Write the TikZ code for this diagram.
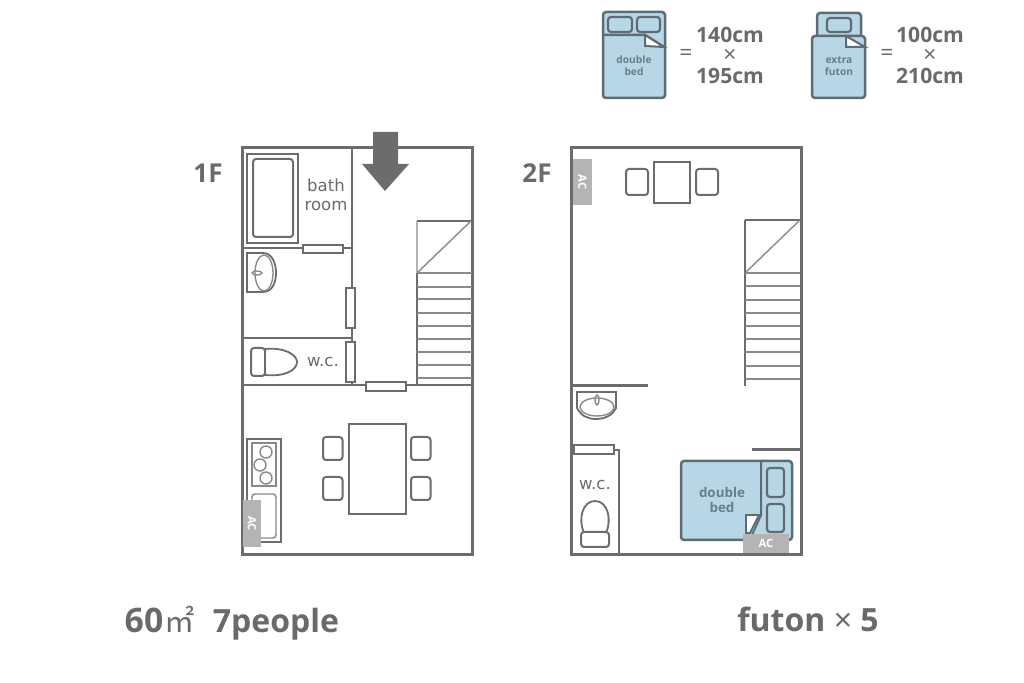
\documentclass[tikz,border=0pt]{standalone}
\usepackage{fontspec}
\setmainfont{Open Sans}
\newfontfamily\cjkfont{Noto Sans CJK JP}
\newfontfamily\roomfont{DejaVu Sans}
\definecolor{wallgray}{HTML}{6C6C6C}
\definecolor{stairgray}{HTML}{8A8A8A}
\definecolor{textgray}{HTML}{6A6A6A}
\definecolor{acgray}{HTML}{B4B4B4}
\definecolor{bedblue}{HTML}{B7D7E6}
\definecolor{bedline}{HTML}{5F6B72}
\definecolor{bedtext}{HTML}{64808E}
\begin{document}
\begin{tikzpicture}[
  x=0.01cm,y=-0.01cm,
  wall/.style={draw=wallgray,line width=0.03cm},
  inner wall/.style={draw=wallgray,line width=0.023cm},
  thin wall/.style={draw=wallgray,line width=0.018cm},
  stair/.style={draw=stairgray,line width=0.014cm},
  fixture/.style={draw=wallgray,line width=0.02cm,fill=white,rounded corners=0.03cm},
  door/.style={draw=wallgray,line width=0.02cm,fill=white},
  bedpart/.style={draw=bedline,line width=0.025cm,fill=bedblue,rounded corners=0.03cm},
  pillow/.style={draw=bedline,line width=0.022cm,rounded corners=0.03cm},
  floor label/.style={font=\bfseries\fontsize{7.4}{9}\selectfont,text=textgray,inner sep=0},
  room label/.style={font=\roomfont\fontsize{4.7}{6}\selectfont,text=textgray,inner sep=0,anchor=base},
  bed label/.style={font=\bfseries\fontsize{3.8}{5}\selectfont,text=bedtext,inner sep=0},
  legend label/.style={font=\bfseries\fontsize{2.9}{4}\selectfont,text=bedtext,inner sep=0},
  size label/.style={font=\bfseries\fontsize{6}{7}\selectfont,text=textgray,inner sep=0},
  sign label/.style={font=\fontsize{6.5}{7}\selectfont,text=textgray,inner sep=0},
  bottom label/.style={font=\bfseries\fontsize{9.1}{11}\selectfont,text=textgray,inner sep=0,anchor=base},
  ac/.style={fill=acgray,font=\bfseries\fontsize{3.2}{4}\selectfont,text=white,inner sep=0}
  ]
  \useasboundingbox (0,0) rectangle (1024,683);

  % legend
  \path[bedpart] (603,12) rectangle (665,98);
  \path[pillow] (608,17) rectangle (632,32);
  \path[pillow] (637,17) rectangle (660,32);
  \draw[bedline,line width=0.025cm] (603,35) -- (645,35) -- (664,47);
  \path[draw=bedline,fill=white,line width=0.02cm] (645,35) -- (645,46) -- (664,47) -- cycle;
  \node[legend label] (LegendDouble) at (634,60) {double};
  \node[legend label] (LegendBed) at (634,72) {bed};
  \node[sign label] (EqDouble) at (686,55) {=};
  \node[size label] (W1) at (730,35) {140cm};
  \node[sign label] (X1) at (730,56) {×};
  \node[size label] (L1) at (730,76) {195cm};

  \path[bedpart] (817,13) rectangle (861,42);
  \path[pillow] (827,18) rectangle (851,32);
  \path[bedpart] (812,36) rectangle (865,98);
  \path[draw=bedline,fill=white,line width=0.02cm] (846,36) -- (846,47) -- (865,47) -- cycle;
  \node[legend label] (LegendExtra) at (839,60) {extra};
  \node[legend label] (LegendFuton) at (839,72) {futon};
  \node[sign label] (EqExtra) at (887,55) {=};
  \node[size label] (W2) at (930,35) {100cm};
  \node[sign label] (X2) at (930,56) {×};
  \node[size label] (L2) at (930,76) {210cm};

  % 1F
  \node[floor label] (F1) at (208,173) {1F};
  \path[wall] (242,148) rectangle (472,555);
  \path[inner wall] (352,148) -- (352,385);
  \path[inner wall] (242,248) -- (352,248);
  \path[inner wall] (242,338) -- (352,338);
  \path[inner wall] (242,385) -- (472,385);
  \path[door] (303,245) rectangle (343,253);
  \path[door] (346,288) rectangle (355,328);
  \path[door] (346,342) rectangle (355,382);
  \path[door] (366,382) rectangle (406,391);

  \path[fill=wallgray] (373,132) -- (398,132) -- (398,164) -- (409,164)
    -- (385,191) -- (362,164) -- (373,164) -- cycle;

  \path[thin wall] (247,154) rectangle (298,243);
  \path[fixture] (253,159) rectangle (293,237);
  \node[room label] (Bath) at (326,192) {bath};
  \node[room label] (Room) at (326,211) {room};

  \path[thin wall] (247,253) -- (263,253) .. controls (272,253) and (276,263) .. (276,273)
    .. controls (276,283) and (272,292) .. (263,292) -- (247,292) -- cycle;
  \draw[stair] (264,273) ellipse (9 and 18);
  \draw[stair] (257,273) ellipse (5 and 2);

  \path[fixture] (251,348) rectangle (265,376);
  \path[thin wall,fill=white] (265,349) .. controls (285,347) and (297,355) .. (297,362)
    .. controls (297,370) and (285,377) .. (265,375) -- cycle;
  \node[room label] (WC1) at (323,367) {w.c.};

  \path[inner wall] (417,221) -- (472,221);
  \path[stair] (417,221) -- (417,273) -- (471,221);
  \path[thin wall] (417,273) -- (417,385);
  \foreach \y in {273,287,299,313,326,339,352,365,378}
    \path[stair] (417,\y) -- (472,\y);

  \path[thin wall] (247,439) rectangle (281,542);
  \path[stair] (252,443) rectangle (276,486);
  \foreach \cx/\cy in {266/452,260/465,266/478}
    \draw[stair] (\cx,\cy) circle (6);
  \path[fixture,stair] (252,494) rectangle (276,538);
  \node[ac,rotate=-90,minimum width=0.47cm,minimum height=0.18cm] (AC1) at (252,523.5) {AC};

  \path[thin wall] (349,424) rectangle (406,514);
  \foreach \cx/\cy in {323/437,323/477,411/437,411/477}
    \path[fixture] (\cx,\cy) rectangle ++(19.5,23);

  % 2F
  \node[floor label] (F2) at (537,173) {2F};
  \path[wall] (571,148) rectangle (801,555);
  \path[wall] (571,386) -- (648,386);
  \path[wall] (752,450) -- (801,450);
  \path[thin wall] (571,450) -- (620,450);
  \path[thin wall] (619,450) -- (619,555);
  \path[door] (574,445) rectangle (614,454);
  \node[ac,rotate=-90,minimum width=0.46cm,minimum height=0.19cm] (AC2) at (582.5,182) {AC};

  \path[thin wall] (654,162) rectangle (690,203);
  \path[fixture] (626,169) rectangle (648,195);
  \path[fixture] (696,169) rectangle (718,195);

  \path[inner wall] (745,220) -- (800,220);
  \path[inner wall] (745,220) -- (745,386);
  \path[stair] (745,273) -- (800,220);
  \foreach \y in {273,286,300,313,326,339,352,366,379}
    \path[stair] (745,\y) -- (800,\y);

  \path[thin wall] (577,392) -- (616,392) -- (616,408) .. controls (612,416) and (604,419) .. (596,419)
    .. controls (588,419) and (581,416) .. (577,408) -- cycle;
  \draw[stair] (597,407) ellipse (17 and 9);
  \draw[stair] (597,400) ellipse (2 and 5);

  \node[room label] (WC2) at (595,490) {w.c.};
  \path[thin wall] (584,533) .. controls (578,520) and (582,501) .. (595,501)
    .. controls (608,501) and (612,520) .. (606,533);
  \path[fixture] (581,532) rectangle (609,547);

  \path[bedpart] (681,461) rectangle (792,540);
  \draw[bedline,line width=0.02cm] (761,461) -- (761,515) -- (752,535);
  \path[draw=bedline,fill=white,line width=0.018cm] (746,515) -- (759,515) -- (750,533) -- (746,533) -- cycle;
  \path[pillow] (767,468) rectangle (784,497);
  \path[pillow] (767,504) rectangle (784,532);
  \node[bed label] (Double) at (722,492) {double};
  \node[bed label] (Bed) at (722,507) {bed};
  \node[ac,minimum width=0.46cm,minimum height=0.19cm] (AC3) at (766,543.5) {AC};

  % bottom
  \node[bottom label,font=\bfseries\fontsize{9.6}{11}\selectfont] (Area) at (144,633) {60};
  \node[bottom label,font=\cjkfont\fontsize{8.6}{11}\selectfont] (AreaUnit) at (180,633) {㎡};
  \node[bottom label] (People) at (276,633) {7people};
  \node[bottom label] (Futon) at (808,632) {futon {\mdseries ×} 5};
\end{tikzpicture}
\end{document}
